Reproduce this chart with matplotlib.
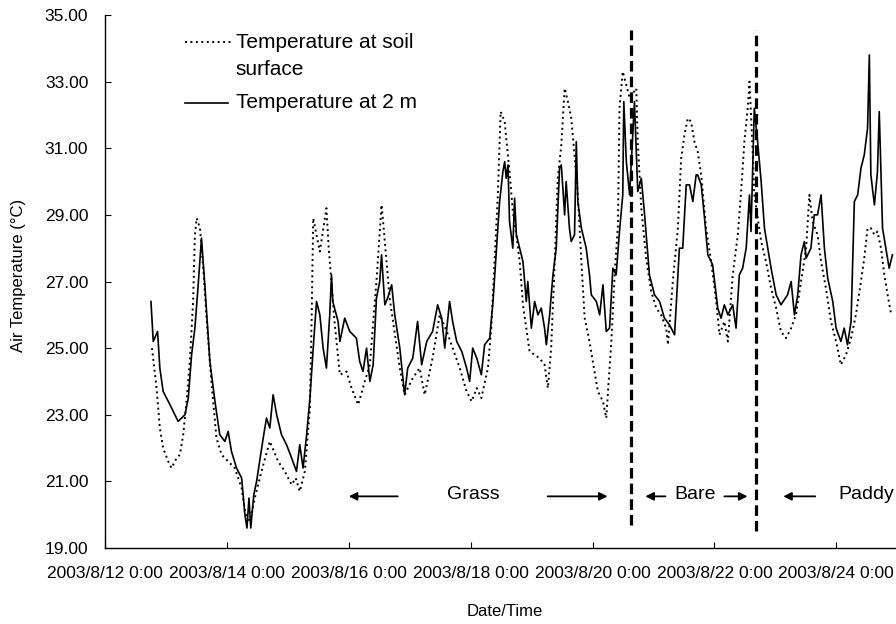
import matplotlib
matplotlib.use('Agg')
import matplotlib.pyplot as plt
import matplotlib.dates as mdates
from matplotlib.ticker import FuncFormatter
import pandas as pd

plt.rcParams['font.family'] = ['Liberation Sans', 'DejaVu Sans']

start = pd.Timestamp('2003-08-12 00:00')

# temperature at 2 m: hours since 2003/8/12 0:00, deg C
air_h = [18.1, 19.0, 20.7, 21.6, 22.9, 25.6, 28.8, 31.5, 32.8, 34.1, 35.4, 36.7, 38.0, 39.3,
         41.3, 43.3, 45.2, 47.2, 48.5, 49.8, 51.8, 53.8, 55.1, 55.9, 56.7, 57.4, 58.6, 59.7,
         62.3, 63.6, 64.9, 66.2, 67.6, 69.5, 71.5, 73.5, 75.4, 76.7, 78.0, 79.4, 80.7, 82.0,
         83.3, 84.6, 85.9, 87.2, 88.5, 89.2, 89.7, 91.8, 92.5, 94.4, 96.4, 99.0, 100.3, 101.6,
         103.0, 104.3, 105.6, 106.9, 108.2, 108.9, 110.2, 111.3, 112.9, 114.1, 116.1, 117.2,
         118.0, 119.2, 121.2, 123.1, 124.7, 126.7, 129.0, 131.0, 132.6, 133.8, 135.7, 136.9,
         138.5, 140.5, 142.4, 143.6, 144.8, 146.4, 148.2, 149.5, 151.5, 152.8, 154.1, 155.4,
         156.7, 157.4, 158.0, 158.7, 159.3, 160.6, 161.3, 162.0, 163.3, 164.6, 165.9, 166.5,
         167.9, 169.2, 170.5, 171.8, 173.1, 173.8, 175.1, 176.4, 177.7, 179.0, 179.7, 181.0,
         181.6, 182.9, 183.6, 184.9, 185.6, 186.2, 187.6, 189.5, 190.8, 191.5, 193.5, 194.8,
         196.1, 197.4, 198.7, 200.0, 201.3, 202.6, 203.9, 204.3, 205.3, 206.6, 208.5, 209.8,
         211.2, 212.5, 214.4, 216.4, 218.4, 220.3, 222.3, 224.3, 226.2, 227.5, 228.9, 230.2,
         231.5, 232.8, 233.4, 234.8, 236.1, 237.4, 239.3, 241.3, 242.6, 243.9, 245.3, 247.2,
         248.5, 249.8, 251.1, 252.5, 253.8, 254.4, 255.7, 257.0, 258.4, 259.7, 261.0, 262.3,
         264.3, 266.2, 268.8, 270.2, 271.5, 272.8, 274.1, 275.4, 276.1, 278.0, 279.3, 280.6,
         282.0, 283.3, 284.6, 286.6, 287.9, 289.8, 291.1, 292.4, 293.8, 295.1, 296.4, 297.7,
         299.0, 300.3, 301.0, 301.6, 303.0, 304.2, 304.9, 306.2, 307.5, 308.8, 310.1]
air_t = [26.4, 25.2, 25.5, 24.4, 23.7, 23.3, 22.8, 23.0, 23.5, 24.8, 25.6, 26.9, 28.3, 26.9,
         24.6, 23.4, 22.4, 22.2, 22.5, 21.9, 21.4, 21.1, 20.0, 19.6, 20.5, 19.6, 20.6, 21.0,
         22.3, 22.9, 22.6, 23.6, 23.0, 22.4, 22.1, 21.7, 21.3, 22.1, 21.4, 22.4, 23.5, 25.0,
         26.4, 26.0, 25.0, 24.4, 26.0, 27.2, 26.4, 25.8, 25.2, 25.9, 25.5, 25.3, 24.6, 24.3,
         25.0, 24.0, 24.5, 26.5, 27.0, 27.8, 26.3, 26.5, 26.9, 26.0, 25.0, 24.2,
         23.6, 24.4, 24.7, 25.8, 24.5, 25.2, 25.5, 26.3, 25.9, 25.0, 26.4, 25.8,
         25.2, 24.9, 24.4, 24.0, 25.0, 24.7, 24.2, 25.1, 25.3, 26.4, 27.9, 29.4,
         30.3, 30.6, 30.1, 30.5, 28.8, 28.0, 29.5, 28.4, 28.0, 27.6, 26.4, 27.0,
         25.6, 26.4, 26.0, 26.2, 25.6, 25.1, 26.0, 27.2, 28.0, 30.4, 30.5, 29.0,
         30.0, 28.6, 28.2, 28.4, 31.2, 29.4, 28.6, 28.0, 27.2, 26.6, 26.4, 26.0,
         26.9, 25.5, 25.6, 27.4, 27.2, 28.5, 29.6, 32.4, 30.6, 29.6, 32.4, 29.7,
         30.1, 29.0, 27.2, 26.6, 26.4, 25.9, 25.7, 25.4, 28.0, 28.0, 29.9, 29.9,
         29.4, 30.2, 30.2, 29.9, 28.9, 27.8, 27.5, 26.2, 25.9, 26.3, 26.0, 26.3,
         25.6, 27.2, 27.4, 28.0, 29.6, 28.5, 32.2, 31.2, 30.0, 28.6, 28.0, 27.4,
         26.6, 26.3, 26.6, 27.0, 26.0, 26.6, 27.8, 28.2, 27.7, 28.0, 29.0, 29.0,
         29.6, 28.0, 27.1, 26.4, 25.6, 25.2, 25.6, 25.1, 25.8, 29.4, 29.6, 30.4,
         30.8, 31.6, 33.8, 30.2, 29.3, 30.3, 32.1, 28.6, 28.0, 27.4, 27.8]

# temperature at soil surface
soil_h = [18.5, 20.3, 21.6, 22.9, 24.9, 26.2, 28.2, 29.5, 30.8, 32.1, 33.4, 34.7, 35.4, 36.1,
          37.4, 38.7, 40.0, 42.0, 43.9, 45.9, 48.5, 51.1, 53.8, 55.1, 57.0, 59.0, 61.6, 64.9,
          68.2, 70.8, 73.5, 75.1, 76.7, 78.7, 80.7, 81.4, 82.0, 84.6, 87.2, 88.1, 90.5, 92.5,
          95.1, 97.1, 99.7, 102.3, 104.3, 106.9, 108.9, 109.4, 112.1, 116.1, 118.0, 121.2,
          123.9, 125.9, 129.0, 131.8, 134.6, 136.9, 139.7, 142.4, 144.4, 146.4, 148.2, 150.8,
          152.1, 153.4, 154.7, 155.8, 157.4, 158.0, 159.3, 160.6, 162.0, 163.3, 164.6, 165.9,
          167.2, 169.2, 171.1, 173.1, 174.4, 175.7, 177.0, 178.3, 179.7, 181.0, 182.3, 183.6,
          184.9, 186.2, 187.6, 188.9, 190.8, 192.1, 194.1, 196.1, 197.4, 199.4, 200.7, 202.0,
          202.6, 203.9, 205.3, 206.6, 209.2, 209.8, 211.2, 213.1, 215.1, 217.1, 219.0, 221.0,
          221.7, 223.6, 225.6, 226.9, 228.2, 229.5, 230.8, 232.1, 233.4, 234.8, 236.7, 238.7,
          240.7, 242.0, 243.9, 245.3, 247.2, 249.2, 250.5, 251.8, 253.1, 253.8, 255.0, 255.7,
          258.4, 260.3, 262.3, 264.3, 266.2, 268.2, 270.2, 272.1, 274.1, 276.1, 277.4, 278.7,
          280.6, 282.0, 283.9, 285.9, 287.9, 289.8, 291.8, 293.8, 295.7, 297.7, 299.0, 300.3,
          301.6, 303.0, 304.2, 305.6, 306.9, 308.2, 309.6]
soil_t = [25.0, 23.8, 22.6, 22.0, 21.6, 21.4, 21.7, 21.8, 22.4, 23.4, 24.6, 26.4, 28.4, 28.9,
          28.6, 27.4, 25.9, 23.9, 22.3, 21.8, 21.6, 21.4, 20.8, 20.1, 19.8, 20.5, 21.3, 22.2,
          21.6, 21.3, 20.9, 21.1, 20.7, 21.3, 23.2, 26.0, 28.9, 27.9, 29.2, 28.0, 25.7, 24.2,
          24.3, 23.8, 23.3, 24.0, 24.5, 27.0, 29.3, 28.9, 26.5, 24.4, 23.6, 24.1,
          24.4, 23.6, 24.7, 26.0, 25.5, 25.0, 24.4, 23.7, 23.4, 23.8, 23.5, 24.4,
          25.6, 27.6, 29.6, 32.1, 31.8, 31.3, 30.3, 29.1, 28.4, 27.6, 26.3, 25.6,
          24.9, 24.8, 24.7, 24.5, 23.8, 25.0, 27.4, 30.1, 31.1, 32.8, 32.4, 31.9,
          30.8, 29.6, 27.6, 25.9, 25.2, 24.6, 23.7, 23.4, 22.9, 25.2, 27.2, 28.7,
          32.2, 33.3, 32.9, 32.5, 32.8, 31.2, 29.2, 27.7, 26.7, 26.2, 26.0, 25.6,
          25.1, 27.0, 28.6, 30.7, 31.4, 31.9, 31.8, 31.2, 30.9, 30.2, 28.6, 27.6,
          26.4, 25.4, 25.8, 25.2, 27.2, 28.4, 29.7, 31.2, 32.2, 33.0, 31.0, 29.6,
          28.2, 27.6, 26.8, 26.2, 25.5, 25.3, 25.6, 26.0, 27.0, 28.0, 29.6, 28.8,
          28.4, 27.6, 26.8, 25.8, 25.2, 24.5, 24.8, 25.3, 26.0, 27.0, 27.7, 28.6,
          28.6, 28.4, 28.5, 28.0, 27.2, 26.6, 26.0]

# land cover change-overs (hours since start)
boundary_h = [207.3, 256.5]
zone_names = ['Grass', 'Bare', 'Paddy']

y_ticks = [19, 21, 23, 25, 27, 29, 31, 33, 35]
x_ticks = pd.date_range('2003-08-12', '2003-08-24', freq='2D')


def to_time(hours):
    return start + pd.to_timedelta(hours, unit='h')


def fmt_date(v, pos):
    d = mdates.num2date(v)
    return f"{d.year}/{d.month}/{d.day} {d.hour}:{d.minute:02d}"


fig = plt.figure(figsize=(8.96, 6.24), dpi=100)
ax = fig.add_axes([105 / 896, 76 / 624, 791 / 896, 533 / 624])

dotted = (0, (1, 1.8))
ax.plot(to_time(soil_h), soil_t, color='black', lw=1.4, linestyle=dotted)
ax.plot(to_time(air_h), air_t, color='black', lw=1.2)

ax.vlines(to_time(boundary_h), [19.7, 19.5], 34.55, colors='black', lw=2.3,
          linestyles=[(0, (3.3, 1.6))])

# zone labels with arrows
yz = 20.55
ax.text(to_time(145.2), yz + 0.05, zone_names[0], ha='center', va='center', fontsize=14)
ax.text(to_time(232.3), yz + 0.05, zone_names[1], ha='center', va='center', fontsize=14)
ax.text(to_time(288.8), yz + 0.05, zone_names[2], ha='left', va='center', fontsize=14)
arrows = [(115.3, 96.0), (174.3, 197.9), (220.7, 212.8), (243.9, 253.0), (279.7, 267.1)]
for tail, head in arrows:
    ax.annotate('', xy=(to_time(head), yz), xytext=(to_time(tail), yz),
                arrowprops=dict(arrowstyle='-|>', color='black', lw=1.3,
                                mutation_scale=12, shrinkA=0, shrinkB=0))

ax.set_xlim(start, to_time(311.5))
ax.set_ylim(19, 35)
ax.set_xticks(x_ticks)
ax.xaxis.set_major_formatter(FuncFormatter(fmt_date))
ax.set_yticks(y_ticks)
ax.set_yticklabels([f"{v:.2f}" for v in y_ticks])
ax.tick_params(axis='x', direction='in', length=4, pad=13, labelsize=12.5)
ax.tick_params(axis='y', direction='in', length=4, pad=12, labelsize=12.5)
for s in ['top', 'right']:
    ax.spines[s].set_visible(False)
for s in ['left', 'bottom']:
    ax.spines[s].set_linewidth(1.0)

# legend drawn by hand so the dotted key sits on the first line
ax.plot([0.101, 0.161], [0.949, 0.949], transform=ax.transAxes, color='black',
        lw=1.4, linestyle=dotted)
ax.plot([0.101, 0.155], [0.835, 0.835], transform=ax.transAxes, color='black', lw=1.2)
ax.text(0.165, 0.949, 'Temperature at soil', transform=ax.transAxes, va='center', fontsize=15)
ax.text(0.165, 0.897, 'surface', transform=ax.transAxes, va='center', fontsize=15)
ax.text(0.165, 0.835, 'Temperature at 2 m', transform=ax.transAxes, va='center', fontsize=15)

fig.text(18 / 896, 1 - 275 / 624, 'Air Temperature (°C)', rotation=90,
         ha='center', va='center', fontsize=12)
fig.text(505 / 896, 1 - 612 / 624, 'Date/Time', ha='center', va='center', fontsize=12)

fig.savefig('out.png', dpi=100)
